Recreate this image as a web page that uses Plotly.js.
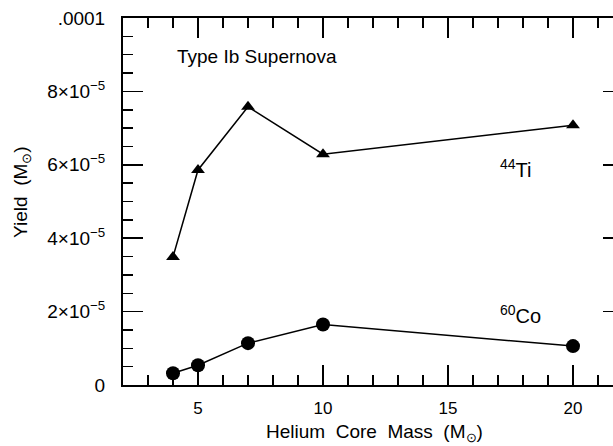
<!DOCTYPE html>
<html>
<head>
<meta charset="utf-8">
<script src="https://cdn.plot.ly/plotly-3.0.1.min.js"></script>
<style>
html,body{margin:0;padding:0;overflow:hidden;background:#fff;width:613px;height:446px;}
#chart{width:640px;height:446px;}
</style>
</head>
<body>
<div id="chart"></div>
<script>
// Helium core masses (M_sun)
const coreMass = [4, 5, 7, 10, 20];
// 44Ti yield (M_sun)
const ti44Yield = [3.49e-5, 5.86e-5, 7.58e-5, 6.29e-5, 7.08e-5];
// 60Co yield (M_sun)
const co60Yield = [0.32e-5, 0.54e-5, 1.14e-5, 1.65e-5, 1.06e-5];
// Tick labels
const yTickVals = [0, 2e-5, 4e-5, 6e-5, 8e-5, 1e-4];
const yTickText = ['0', '2×10<sup>−5</sup>', '4×10<sup>−5</sup>', '6×10<sup>−5</sup>', '8×10<sup>−5</sup>', '.0001'];
const xTickVals = [5, 10, 15, 20];
const xTickText = ['5', '10', '15', '20'];

const font = 'Liberation Sans, Arial, Helvetica, sans-serif';

const traces = [
  {x: coreMass, y: ti44Yield, mode: 'lines+markers', type: 'scatter',
   line: {color: '#000', width: 1.5},
   marker: {symbol: 'triangle-up', size: 12, color: '#000'}, showlegend: false, cliponaxis: false},
  {x: coreMass, y: co60Yield, mode: 'lines+markers', type: 'scatter',
   line: {color: '#000', width: 1.5},
   marker: {symbol: 'circle', size: 14, color: '#000'}, showlegend: false, cliponaxis: false}
];

const layout = {
  width: 640, height: 446,
  margin: {l: 123, r: 17, t: 18, b: 61},
  paper_bgcolor: '#fff', plot_bgcolor: '#fff',
  font: {family: font, color: '#000', size: 16},
  xaxis: {
    range: [2, 22], showgrid: false, zeroline: false,
    showline: true, linecolor: '#000', linewidth: 2, mirror: 'allticks',
    ticks: 'inside', ticklen: 20, tickwidth: 1.5, tickcolor: '#000',
    tickvals: xTickVals, ticktext: xTickText, ticklabelstandoff: 7,
    tickfont: {family: font, size: 17, color: '#000'},
    minor: {dtick: 1, tick0: 0, ticks: 'inside', ticklen: 10, tickwidth: 1.5, tickcolor: '#000', showgrid: false}
  },
  yaxis: {
    range: [0, 1e-4], showgrid: false, zeroline: false,
    showline: true, linecolor: '#000', linewidth: 2, mirror: 'allticks',
    ticks: 'inside', ticklen: 20, tickwidth: 1.5, tickcolor: '#000',
    tickvals: yTickVals, ticktext: yTickText, ticklabelstandoff: 12,
    tickfont: {family: font, size: 19, color: '#000'},
    minor: {dtick: 5e-6, tick0: 0, ticks: 'inside', ticklen: 10, tickwidth: 1.5, tickcolor: '#000', showgrid: false}
  },
  annotations: [
    {text: 'Type Ib Supernova', x: 4.08, y: 8.95e-5, xref: 'x', yref: 'y', xanchor: 'left', yanchor: 'middle',
     showarrow: false, font: {family: font, size: 19, color: '#000'}},
    {text: '<sup>44</sup>Ti', x: 17.0, y: 5.91e-5, xref: 'x', yref: 'y', xanchor: 'left', yanchor: 'middle',
     showarrow: false, font: {family: font, size: 20, color: '#000'}},
    {text: '<sup>60</sup>Co', x: 17.0, y: 1.91e-5, xref: 'x', yref: 'y', xanchor: 'left', yanchor: 'middle',
     showarrow: false, font: {family: font, size: 20, color: '#000'}},
    {text: 'Yield  (M<sub>⊙</sub>)', x: 0, xref: 'paper', xshift: -101, y: 5.26e-5, yref: 'y', textangle: -90,
     xanchor: 'center', yanchor: 'middle', showarrow: false, font: {family: font, size: 19, color: '#000'}},
    {text: 'Helium  Core  Mass  (M<sub>⊙</sub>)', x: 12.04, xref: 'x', y: 0, yref: 'paper', yshift: -48,
     xanchor: 'center', yanchor: 'middle', showarrow: false, font: {family: font, size: 19, color: '#000'}}
  ]
};

Plotly.newPlot('chart', traces, layout, {displayModeBar: false, staticPlot: true});
</script>
</body>
</html>
